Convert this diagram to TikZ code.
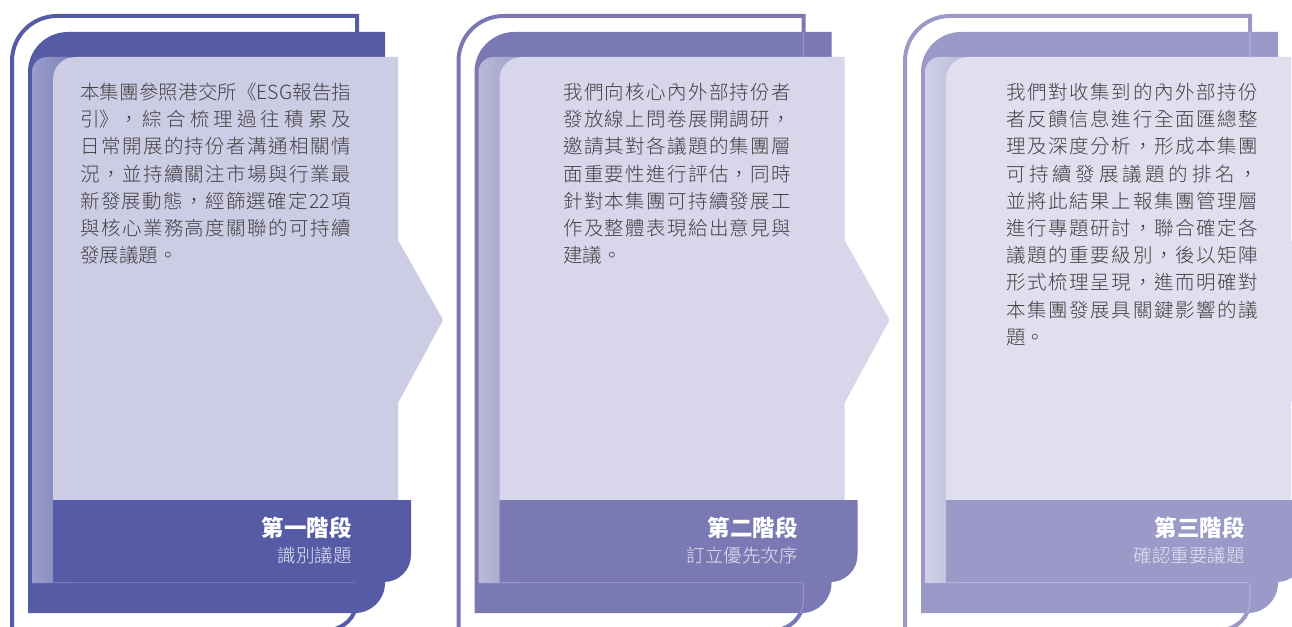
\documentclass[tikz,border=0pt]{standalone}
\usepackage{fontspec}
\setmainfont{Noto Sans CJK TC}
\newfontfamily\lightcjk{Noto Sans CJK TC Light}
\definecolor{bodygray}{HTML}{404040}
\definecolor{dA}{HTML}{565BA6}
\definecolor{lA}{HTML}{CDCCE5}
\definecolor{sAl}{HTML}{999DCC}
\definecolor{sAr}{HTML}{7E82B8}
\definecolor{eA}{HTML}{7378B8}
\definecolor{dB}{HTML}{7A79B4}
\definecolor{lB}{HTML}{D8D6EB}
\definecolor{sBl}{HTML}{BAB9D9}
\definecolor{sBr}{HTML}{A3A2CA}
\definecolor{eB}{HTML}{9897C8}
\definecolor{dC}{HTML}{9B99C8}
\definecolor{lC}{HTML}{E0DFF0}
\definecolor{sCl}{HTML}{D0CFE7}
\definecolor{sCr}{HTML}{BDBCDA}
\definecolor{eC}{HTML}{B4B3D8}
\definecolor{subtxt}{HTML}{E6E6F3}
\newlength\jw
\newcommand\jl[1]{\makebox[\jw][s]{\spaceskip=0pt plus 1fil\relax #1}}
\tikzset{
  body/.style={anchor=base west, inner sep=0pt, text=bodygray, font=\lightcjk\fontsize{19.5}{20}\selectfont},
  ttl/.style={anchor=base east, inner sep=0pt, text=white, font=\fontsize{22.5}{24}\selectfont\bfseries},
  subttl/.style={anchor=base east, inner sep=0pt, text=subtxt, font=\lightcjk\fontsize{18.5}{20}\selectfont},
}
% #1 offset, #2 dark, #3 light, #4 strip left, #5 strip right, #6 edge colour, #7 inner line (1/0)
\newcommand\panel[7]{%
\begin{scope}[xshift=#1pt]
  \draw[line width=4pt, #2] (12,640) -- (12,61) arc[start angle=180, end angle=270, radius=45]
     -- (357,16) -- (357,600) arc[start angle=0, end angle=90, radius=30] -- (200,630);
  \fill[#2] (28,613) -- (28,72) arc[start angle=180, end angle=270, radius=40]
     -- (385,32) -- (385,583) arc[start angle=0, end angle=90, radius=30] -- cycle;
  \ifnum#7=1
  \begin{scope}
    \clip (28,613) -- (28,72) arc[start angle=180, end angle=270, radius=40]
     -- (385,32) -- (385,583) arc[start angle=0, end angle=90, radius=30] -- cycle;
    \draw[line width=1pt, #6] (357,16) -- (357,600) arc[start angle=0, end angle=90, radius=30] -- (200,630);
  \end{scope}
  \fi
  \shade[left color=#4, right color=#5] (32,583) -- (32,72) arc[start angle=180, end angle=270, radius=15]
     -- (70,57) -- (70,583) -- cycle;
  \fill[#3] (53,500) -- (53,79) arc[start angle=180, end angle=270, radius=22]
     -- (398,57) -- (398,240) -- (439.6,313.9) .. controls (443.5,320) .. (439.7,326.2)
     -- (398,403) -- (398,500) -- cycle;
  \fill[#2] (53,500) -- (411,500) -- (411,555) arc[start angle=0, end angle=90, radius=27]
     -- (53,582) -- cycle;
  \draw[line width=0.8pt, #6] (53,582.6) -- (355,582.6);
\end{scope}}
\newcommand\bodylines[5]{%
  \setlength\jw{#4pt}%
  \foreach \ln [count=\i from 0] in {#5} {
    \node[body] (#1\i) at (#2,#3+\i*27.2) {\ln};
  }}
\begin{document}
\begin{tikzpicture}[x=1pt, y=-1pt]
\useasboundingbox (0,0) rectangle (1292,626);
\clip (0,0) rectangle (1292,626);
\fill[white] (0,0) rectangle (1292,626);
\panel{0}{dA}{lA}{sAl}{sAr}{eA}{0}
\panel{446.5}{dB}{lB}{sBl}{sBr}{eB}{1}
\panel{893}{dC}{lC}{sCl}{sCr}{eC}{1}
% panel 1 text
\bodylines{pa}{80}{99.4}{271}{
 {\jl{本 集 團 參 照 港 交 所《ESG 報 告 指}},
 {\jl{引》， 綜 合 梳 理 過 往 積 累 及}},
 {\jl{日 常 開 展 的 持 份 者 溝 通 相 關 情}},
 {\jl{況 ， 並 持 續 關 注 市 場 與 行 業 最}},
 {\jl{新 發 展 動 態 ， 經 篩 選 確 定 22 項}},
 {\jl{與 核 心 業 務 高 度 關 聯 的 可 持 續}},
 {發展議題。}}
% panel 2 text
\bodylines{pb}{563}{99.4}{228}{
 {\jl{我 們 向 核 心 內 外 部 持 份 者}},
 {\jl{發 放 線 上 問 卷 展 開 調 研 ，}},
 {\jl{邀 請 其 對 各 議 題 的 集 團 層}},
 {\jl{面 重 要 性 進 行 評 估 ， 同 時}},
 {\jl{針 對 本 集 團 可 持 續 發 展 工}},
 {\jl{作 及 整 體 表 現 給 出 意 見 與}},
 {建議。}}
% panel 3 text
\bodylines{pc}{1006}{99.4}{252}{
 {\jl{我 們 對 收 集 到 的 內 外 部 持 份}},
 {\jl{者 反 饋 信 息 進 行 全 面 匯 總 整}},
 {\jl{理 及 深 度 分 析 ， 形 成 本 集 團}},
 {\jl{可 持 續 發 展 議 題 的 排 名 ，}},
 {\jl{並 將 此 結 果 上 報 集 團 管 理 層}},
 {\jl{進 行 專 題 研 討 ， 聯 合 確 定 各}},
 {\jl{議 題 的 重 要 級 別 ， 後 以 矩 陣}},
 {\jl{形 式 梳 理 呈 現 ， 進 而 明 確 對}},
 {\jl{本 集 團 發 展 具 關 鍵 影 響 的 議}},
 {題。}}
% footers
\node[ttl] (t1) at (352,536.5) {第一階段};
\node[subttl] (s1) at (352,562) {識別議題};
\node[ttl] (t2) at (798,536.5) {第二階段};
\node[subttl] (s2) at (798,562) {訂立優先次序};
\node[ttl] (t3) at (1245,536.5) {第三階段};
\node[subttl] (s3) at (1245,562) {確認重要議題};
\end{tikzpicture}
\end{document}
